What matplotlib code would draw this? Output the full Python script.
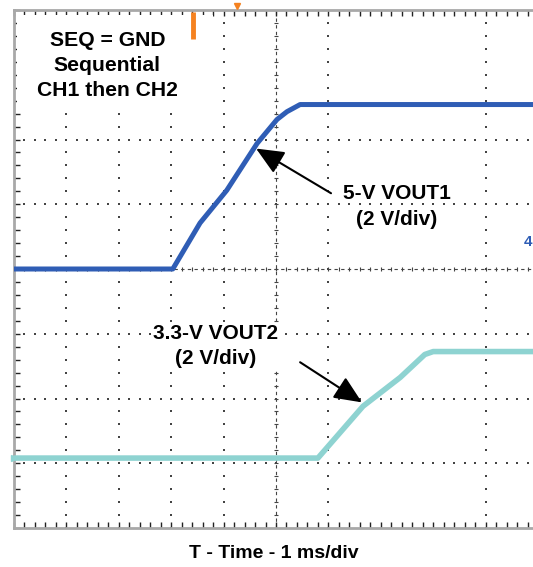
import numpy as np
import matplotlib
matplotlib.use("Agg")
import matplotlib.pyplot as plt
from matplotlib.patches import Rectangle

plt.rcParams['font.family'] = ['Liberation Sans', 'DejaVu Sans']

# scope traces: time in ms, voltage in V (2 V/div)
t_vout1 = [0, 3.03, 3.55, 4.06, 4.64, 5.02, 5.21, 5.46, 10]
v_vout1 = [0, 0, 1.42, 2.43, 3.88, 4.62, 4.86, 5.08, 5.08]
t_vout2 = [0, 5.80, 6.66, 7.37, 7.84, 8.0, 10]
v_vout2 = [0, 0, 1.60, 2.49, 3.20, 3.29, 3.29]

volts_per_div = 2.0
ch1_offset = 0.0     # divisions
ch2_offset = -2.92   # divisions

blue = '#2F5DB5'
cyan = '#8ED3D1'
orange = '#F58220'
dotc = '#444444'

fig = plt.figure(figsize=(5.33, 5.67), dpi=100)
ax = fig.add_axes([14 / 533, 39 / 567, 524 / 533, 518 / 567])
ax.set_xlim(0, 10)
ax.set_ylim(-4, 4)

# dotted scope graticule (only the lines visible on the capture)
for gx in [1, 2, 3, 4, 6, 9]:
    yy = np.arange(-4, 4.01, 0.2)
    ax.scatter([gx] * len(yy), yy, s=1.5, marker='s', color=dotc, lw=0, zorder=1)
for gy in [-3, -2, -1, 1, 2]:
    xx = np.arange(0, 10.01, 0.2)
    ax.scatter(xx, [gy] * len(xx), s=1.5, marker='s', color=dotc, lw=0, zorder=1)

# center axes with minor ticks
ax.axhline(0, color=dotc, lw=0.8, ls=(0, (3, 3)), zorder=1)
ax.axvline(5, color=dotc, lw=0.8, ls=(0, (3, 3)), zorder=1)
xt = np.arange(0, 10.01, 0.2)
ax.scatter(xt, np.zeros_like(xt), marker='|', s=12, color=dotc, lw=0.8, zorder=1)
yt = np.arange(-4, 4.01, 0.2)
ax.scatter(np.full_like(yt, 5), yt, marker='_', s=12, color=dotc, lw=0.8, zorder=1)

# white label area over the graticule
ax.add_patch(Rectangle((0.05, 2.42), 3.75, 1.5, facecolor='white', edgecolor='none', zorder=2))

# traces
ax.plot(t_vout1, np.array(v_vout1) / volts_per_div + ch1_offset, color=blue, lw=3.6,
        solid_joinstyle='round', zorder=3)
ax.plot(t_vout2, np.array(v_vout2) / volts_per_div + ch2_offset, color=cyan, lw=4.0,
        solid_joinstyle='round', zorder=3)

# markers: trigger, channel levels
ax.plot([3.42, 3.42], [3.55, 3.97], color=orange, lw=3.5, solid_capstyle='butt', zorder=4)
ax.plot([4.26], [4.06], marker='v', color=orange, ms=5, clip_on=False, zorder=4)
ax.text(9.8, 0.42, '4', color=blue, fontsize=11, fontweight='bold', ha='center', va='center')
ax.plot([0.0], [ch2_offset], marker='>', color=cyan, ms=5, clip_on=False, zorder=4)

# frame
for side in ['left', 'top', 'bottom']:
    ax.spines[side].set_color('#a8a8a8')
    ax.spines[side].set_linewidth(2)
ax.spines['right'].set_visible(False)
ax.set_xticks(np.arange(0, 10.01, 0.2))
ax.set_yticks(np.arange(-4, 4.01, 0.2))
ax.tick_params(direction='in', length=4, width=1, color='#222222',
               top=True, bottom=True, left=True, right=False,
               labelbottom=False, labelleft=False)

# annotations
tf = dict(fontweight='bold', color='black', ha='center', va='center')
ax.text(1.78, 3.15, 'SEQ = GND\nSequential\nCH1 then CH2', fontsize=15.2,
        linespacing=1.4, zorder=5, **tf)
ax.text(7.3, 0.96, '5-V VOUT1\n(2 V/div)', fontsize=15, linespacing=1.45, zorder=5, **tf)
ax.text(3.85, -1.19, '3.3-V VOUT2\n(2 V/div)', fontsize=15, linespacing=1.45, zorder=5,
        bbox=dict(facecolor='white', edgecolor='none', pad=0.5), **tf)

arrow = dict(arrowstyle='-|>,head_length=1.7,head_width=0.75',
             color='black', lw=1.5, shrinkA=0, shrinkB=0)
ax.annotate('', xy=(4.62, 1.86), xytext=(6.05, 1.17), arrowprops=arrow, zorder=6)
ax.annotate('', xy=(6.64, -2.06), xytext=(5.46, -1.44), arrowprops=arrow, zorder=6)

fig.text(274 / 533, 1 - 553 / 567, 'T - Time - 1 ms/div', fontsize=14,
         fontweight='bold', ha='center', va='center')

fig.savefig('out.png', dpi=100)
